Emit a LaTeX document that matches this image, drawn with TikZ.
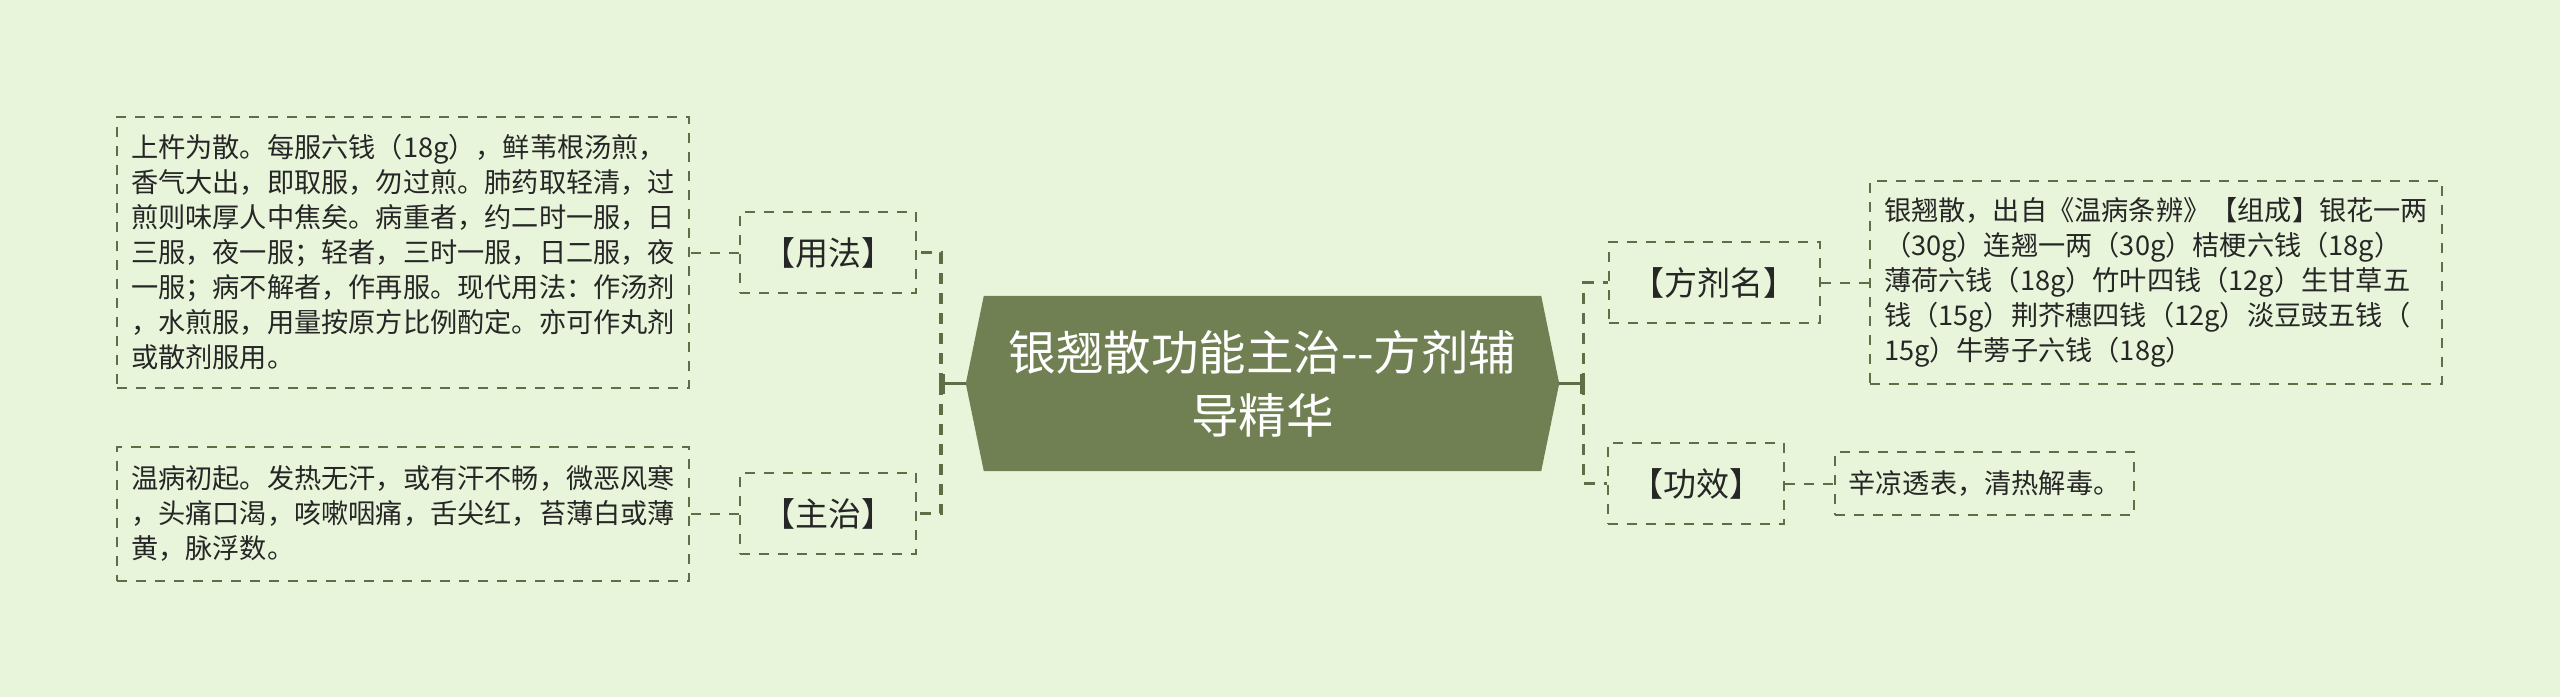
\documentclass[tikz,border=0pt]{standalone}
\usepackage{fontspec}
\newfontfamily\cjkfont{Noto Sans CJK SC}
\usetikzlibrary{arrows.meta, backgrounds}

\definecolor{bgcol}{HTML}{E8F5DA}
\definecolor{titlefill}{HTML}{718052}
\definecolor{linecol}{HTML}{5F6E45}
\definecolor{txtcol}{HTML}{262626}

\tikzset{
    titlebox/.style={minimum width=593pt, minimum height=175pt, inner sep=0pt, text=white, align=center, font=\fontsize{47.5}{63}\selectfont\cjkfont},
    topic/.style={draw=linecol, line width=2pt, dash pattern=on 10pt off 9pt, minimum height=81pt, inner sep=0pt, text=txtcol, font=\fontsize{33}{38}\selectfont\cjkfont},
    detail/.style={draw=linecol, line width=2pt, dash pattern=on 10pt off 9pt, inner sep=0pt, align=left, text=txtcol, font=\fontsize{27.2}{35}\selectfont\cjkfont},
    trunk/.style={draw=linecol, line width=3.6pt, -{Bar[width=20pt]}},
    branch/.style={draw=linecol, line width=3.8pt, dash pattern=on 11pt off 9pt},
    leaf/.style={draw=linecol, line width=2pt, dash pattern=on 10pt off 9pt},
}

\begin{document}
\begin{tikzpicture}[x=1pt, y=-1pt]
    \useasboundingbox (0,0) rectangle (2560,697);

    \node[titlebox] (ttl) at (1262.5,383.5) {银翘散功能主治--方剂辅\\导精华};

    \node[topic, minimum width=176pt] (yf) at (828,252.5) {【用法】};
    \node[topic, minimum width=176pt] (zz) at (828,513.5) {【主治】};
    \node[topic, minimum width=211pt] (fjm) at (1714,282.5) {【方剂名】};
    \node[topic, minimum width=176pt] (gx) at (1696,483.5) {【功效】};

    \node[detail, minimum width=572pt, minimum height=271pt] (yfd) at (403,252.5) {上杵为散。每服六钱（18g），鲜苇根汤煎，\\香气大出，即取服，勿过煎。肺药取轻清，过\\煎则味厚人中焦矣。病重者，约二时一服，日\\三服，夜一服；轻者，三时一服，日二服，夜\\一服；病不解者，作再服。现代用法：作汤剂\\，水煎服，用量按原方比例酌定。亦可作丸剂\\或散剂服用。};
    \node[detail, minimum width=572pt, minimum height=134pt] (zzd) at (403,513.5) {温病初起。发热无汗，或有汗不畅，微恶风寒\\，头痛口渴，咳嗽咽痛，舌尖红，苔薄白或薄\\黄，脉浮数。};
    \node[detail, minimum width=572pt, minimum height=203pt] (fjmd) at (2156,282.5) {银翘散，出自《温病条辨》【组成】银花一两\\（30g）连翘一两（30g）桔梗六钱（18g）\\薄荷六钱（18g）竹叶四钱（12g）生甘草五\\钱（15g）荆芥穗四钱（12g）淡豆豉五钱（\\15g）牛蒡子六钱（18g）};
    \node[detail, minimum width=299pt, minimum height=63pt] (gxd) at (1984.5,483.5) {辛凉透表，清热解毒。};

    \coordinate (lj) at (941,383.5);
    \coordinate (rj) at (1583.5,383.5);

    \begin{pgfonlayer}{background}
        \fill[bgcol] (0,0) rectangle (2560,697);
        \fill[titlefill] (ttl.west) -- ([xshift=18pt]ttl.north west) -- ([xshift=-18pt]ttl.north east)
            -- (ttl.east) -- ([xshift=-18pt]ttl.south east) -- ([xshift=18pt]ttl.south west) -- cycle;
    \end{pgfonlayer}

    \draw[trunk] (ttl.west) -- (lj);
    \draw[trunk] (ttl.east) -- (rj);
    \draw[branch]
        (lj) |- (yf.east)
        (lj) |- (zz.east)
        (rj) |- (fjm.west)
        (rj) |- (gx.west);
    \draw[leaf]
        (yf.west) -- (yfd.east)
        (zz.west) -- (zzd.east)
        (fjm.east) -- (fjmd.west)
        (gx.east) -- (gxd.west);
\end{tikzpicture}
\end{document}
